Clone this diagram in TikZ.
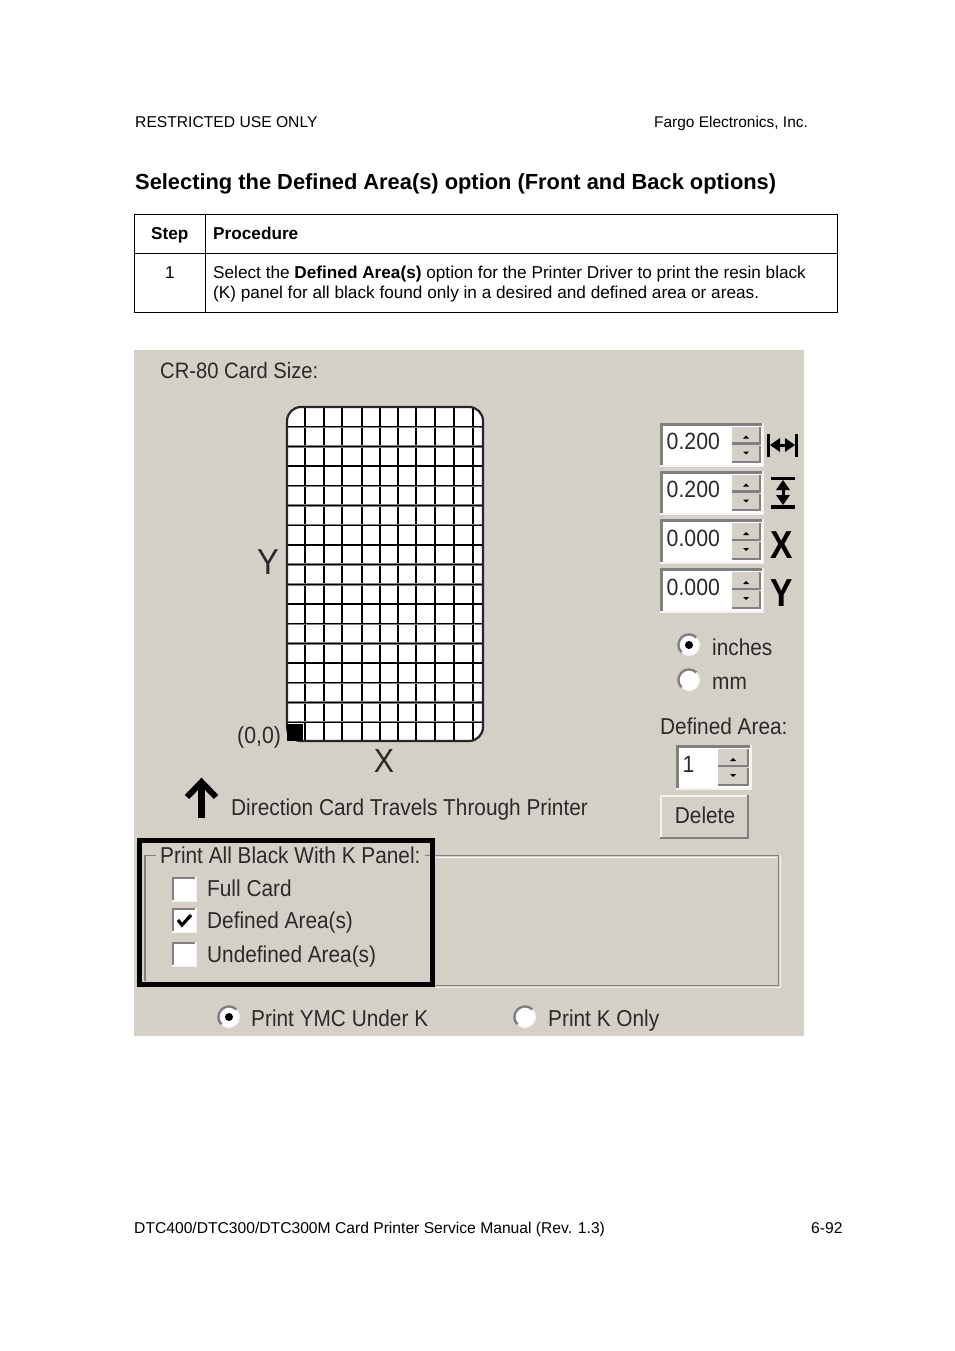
\documentclass[tikz,border=0pt]{standalone}
\usepackage{fontspec}
\setmainfont{Liberation Sans}
\newfontfamily\uifont[FakeStretch=0.905]{Liberation Sans}
\newfontfamily\iconfont[FakeStretch=0.86]{Liberation Sans Bold}
\definecolor{panel}{HTML}{D4D0C8}
\definecolor{uitext}{HTML}{2A2A2A}
\definecolor{bevel}{HTML}{808080}
\definecolor{hilite}{HTML}{F4F2EE}
\newcommand{\uifs}{\uifont\fontsize{23}{23}\selectfont}
\newcommand{\spinbox}[7]{% name x1 y1 x2 y2 text xsplit
  \fill[white] (#2,#3) rectangle (#4,#5);
  \draw[bevel,line width=3] (#2+1.5,#5-1) -- (#2+1.5,#3+1.5) -- (#4-1,#3+1.5);
  \draw[hilite,line width=1.5] (#2,#5) -- (#4,#5) -- (#4,#3);
  \fill[panel] (#7,#3+4) rectangle (#4-3,#5-4);
  \pgfmathsetmacro{\midy}{(#3+#5)/2}
  \draw[bevel,line width=2.5] (#7,\midy-1) -- (#4-3,\midy-1) -- (#4-3,#3+4);
  \draw[bevel,line width=2.5] (#7,#5-4) -- (#4-3,#5-4) -- (#4-3,\midy+1);
  \fill[black] ({(#7+#4-3)/2-3},\midy-6) -- ++(6,0) -- ++(-3,-3) -- cycle;
  \fill[black] ({(#7+#4-3)/2-3},\midy+7) -- ++(6,0) -- ++(-3,3) -- cycle;
  \node[uilabel,anchor=west,font=\uifont\fontsize{23.5}{24}\selectfont] (#1) at (#2+6.5,\midy-3) {#6};
}
\newcommand{\radiobtn}[4]{% name x y selected
  \fill[white] (#2,#3) circle (10);
  \draw[bevel,line width=2.4] (#2+7.5,#3-7.5) arc (-45:-225:10.6);
  \draw[hilite,line width=1] (#2+7.5,#3-7.5) arc (-45:135:10.6);
  \ifnum#4=1 \fill[black] (#2,#3) circle (4); \fi
  \coordinate (#1) at (#2,#3);
}
\newcommand{\chkbox}[4]{% name x y checked
  \fill[white] (#2,#3) rectangle (#2+24,#3+24);
  \draw[bevel,line width=2.5] (#2+1,#3+23) -- (#2+1,#3+1) -- (#2+23,#3+1);
  \draw[hilite,line width=1] (#2,#3+24) -- (#2+24,#3+24) -- (#2+24,#3);
  \ifnum#4=1 \draw[black,line width=3.2] (#2+6,#3+12) -- (#2+10,#3+17) -- (#2+19,#3+7); \fi
  \coordinate (#1) at (#2+12,#3+12);
}
\tikzset{
  pagetext/.style={inner sep=0,anchor=base west,font=\fontsize{15.65}{20}\selectfont},
  uilabel/.style={inner sep=0,text=uitext,font=\uifs},
  cell/.style={inner sep=0,anchor=base west,font=\fontsize{17.2}{20}\selectfont},
  cellhead/.style={cell,font=\fontsize{17.2}{20}\selectfont\bfseries},
  icon/.style={anchor=base,inner sep=0,font=\iconfont\fontsize{39}{39}\selectfont},
}
\begin{document}
\begin{tikzpicture}[x=1pt,y=-1pt]
\useasboundingbox (0,0) rectangle (954,1351);
\fill[white] (0,0) rectangle (954,1351);
\node[pagetext] (hl) at (135,127.5) {RESTRICTED USE ONLY};
\node[pagetext,font=\fontsize{15.45}{20}\selectfont] (hr) at (654,127.5) {Fargo Electronics, Inc.};
\node[pagetext,font=\fontsize{21.85}{26}\selectfont\bfseries] (title) at (135,189.5) {Selecting the Defined Area(s) option (Front and Back options)};
% table
\draw[black,line width=1.2] (134.5,214.5) rectangle (837.5,312.5);
\draw[black,line width=1.2] (134.5,253.5) -- (837.5,253.5);
\draw[black,line width=1.2] (205.5,214.5) -- (205.5,312.5);
\node[cellhead] (th1) at (151,239) {Step};
\node[cellhead] (th2) at (213,239) {Procedure};
\node[cell] (c1) at (165,278) {1};
\node[cell] (c2a) at (213,278) {Select the \textbf{Defined Area(s)} option for the Printer Driver to print the resin black};
\node[cell] (c2b) at (213,298) {(K) panel for all black found only in a desired and defined area or areas.};
% panel
\fill[panel] (134,350) rectangle (804,1036);
\node[uilabel,anchor=base west,font=\uifont\fontsize{22.3}{22}\selectfont] (size) at (160,378) {CR-80 Card Size:};
% card
\fill[white,rounded corners=14] (287,407) rectangle (483,741);
\begin{scope}
\clip[rounded corners=14] (287,407) rectangle (483,741);
\foreach \gx in {305,324,342,362,380,398,416,435,454,473}{
  \draw[bevel,line width=2.4] (\gx,407) -- (\gx,741);
  \draw[black,line width=1.3] (\gx,407) -- (\gx,741);}
\foreach \gi in {1,...,16}{
  \draw[bevel,line width=2.4] (287,407+19.7*\gi) -- (483,407+19.7*\gi);
  \draw[black,line width=1.3] (287,407+19.7*\gi) -- (483,407+19.7*\gi);}
\end{scope}
\draw[black!85,line width=2.2,rounded corners=14] (287,407) rectangle (483,741);
\fill[black] (287,724) rectangle (303,741);
\node[uilabel,anchor=base,font=\uifont\fontsize{36}{36}\selectfont] (ylab) at (268,574) {Y};
\node[uilabel,anchor=base,font=\uifont\fontsize{33.5}{34}\selectfont] (xlab) at (384,772.5) {X};
\node[uilabel,anchor=base west,font=\uifont\fontsize{23.5}{24}\selectfont] (origin) at (237,743.5) {(0,0)};
% arrow
\draw[black,line width=6.5] (201.5,818) -- (201.5,783);
\draw[black,line width=6] (187,797) -- (201.5,782) -- (216,797);
\node[uilabel,anchor=base west] (dir) at (231,815.5) {Direction Card Travels Through Printer};
% spin boxes
\spinbox{s1}{660}{423}{763}{466}{0.200}{732}
\spinbox{s2}{660}{471}{763}{514}{0.200}{732}
\spinbox{s3}{660}{519}{763}{563}{0.000}{732}
\spinbox{s4}{660}{568}{763}{612}{0.000}{732}
% icons
\draw[black,line width=3.5] (768.5,434) -- (768.5,457) (796.5,434) -- (796.5,457);
\draw[black,line width=3] (772,445) -- (793,445);
\fill[black] (770,445) -- (780,438) -- (780,452) -- cycle (795,445) -- (785,438) -- (785,452) -- cycle;
\draw[black,line width=3.5] (771,478.5) -- (795,478.5) (771,507) -- (795,507);
\draw[black,line width=3] (783,482) -- (783,503);
\fill[black] (783,480) -- (776,490) -- (790,490) -- cycle (783,505) -- (776,495) -- (790,495) -- cycle;
\node[icon] (ix) at (782,558) {X};
\node[icon] (iy) at (782,606) {Y};
% radios units
\radiobtn{r1}{689}{645}{1}
\radiobtn{r2}{689}{680}{0}
\node[uilabel,anchor=base west] (inch) at (712,655) {inches};
\node[uilabel,anchor=base west] (mm) at (712,689.5) {mm};
\node[uilabel,anchor=base west] (da) at (660,734) {Defined Area:};
\spinbox{s5}{676}{745}{751}{789}{1}{718}
% delete
\fill[panel] (660,795) rectangle (749,838);
\draw[hilite,line width=2] (661,838) -- (661,796) -- (749,796);
\draw[bevel,line width=2.5] (660,838) -- (748,838) -- (748,795);
\node[uilabel] (del) at (705,815.5) {Delete};
% group box
\draw[bevel,line width=1.5] (435,855.5) -- (778.5,855.5) -- (778.5,985.5) -- (435,985.5);
\draw[hilite,line width=1] (435,857) -- (777,857);
\draw[hilite,line width=1] (780,855) -- (780,987) -- (435,987);
% highlighted frame
\draw[bevel,line width=1.5] (156,855.5) -- (145,855.5) -- (145,981);
\draw[bevel,line width=1.5] (425,855.5) -- (431,855.5);
\draw[black,line width=5] (139.5,840.5) rectangle (432.5,984.5);
\node[uilabel,anchor=base west] (grp) at (160,863.5) {Print All Black With K Panel:};
\chkbox{k1}{172}{877}{0}
\chkbox{k2}{172}{908}{1}
\chkbox{k3}{172}{942}{0}
\node[uilabel,anchor=base west] (l1) at (207,896.5) {Full Card};
\node[uilabel,anchor=base west] (l2) at (207,928.5) {Defined Area(s)};
\node[uilabel,anchor=base west] (l3) at (207,962.5) {Undefined Area(s)};
\radiobtn{r3}{229}{1017}{1}
\radiobtn{r4}{525}{1017}{0}
\node[uilabel,anchor=base west] (py) at (251,1026) {Print YMC Under K};
\node[uilabel,anchor=base west] (pk) at (548,1026) {Print K Only};
% footer
\node[pagetext] (fl) at (134,1233) {DTC400/DTC300/DTC300M Card Printer Service Manual (Rev. 1.3)};
\node[pagetext] (fr) at (811,1233) {6-92};
\end{tikzpicture}
\end{document}
